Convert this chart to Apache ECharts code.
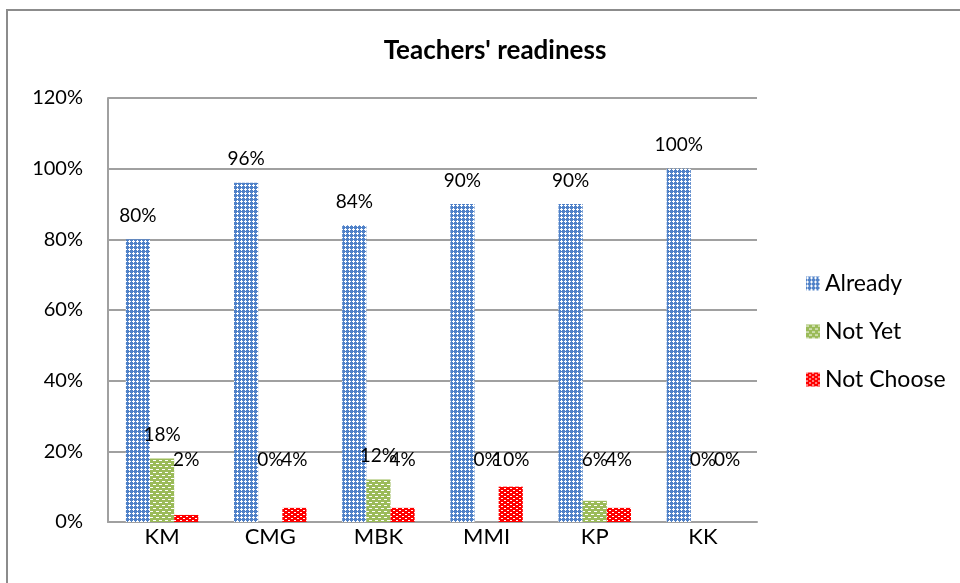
<!DOCTYPE html>
<html>
<head>
<meta charset="utf-8">
<script src="https://cdn.jsdelivr.net/npm/echarts@6/dist/echarts.min.js"></script>
<style>
  html, body { margin: 0; padding: 0; background: #fff; }
  #chart { width: 960px; height: 583px; }
</style>
</head>
<body>
<div id="chart"></div>
<script>
var categories = ['KM', 'CMG', 'MBK', 'MMI', 'KP', 'KK'];
var already = [80, 96, 84, 90, 90, 100];
var notYet = [18, 0, 12, 0, 6, 0];
var notChoose = [2, 4, 4, 10, 4, 0];

var FONT = 'Lato, "Open Sans", sans-serif';

// little canvas tiles to mimic the excel pattern fills
function tile(w, h, bg, dots) {
    var c = document.createElement('canvas');
    c.width = w;
    c.height = h;
    var ctx = c.getContext('2d');
    ctx.fillStyle = bg;
    ctx.fillRect(0, 0, w, h);
    ctx.fillStyle = '#fff';
    dots.forEach(function (d) {
        ctx.fillRect(d[0], d[1], d[2], d[3]);
    });
    return { image: c, repeat: 'repeat' };
}

var bluePat = tile(4, 4, '#4f81c8', [[1, 0, 1, 1], [0, 1, 3, 1], [1, 2, 1, 1]]);
var greenPat = tile(6, 6, '#9bbb59', [[0, 1, 3, 1], [3, 4, 3, 1]]);
var redPat = tile(6, 4, '#ff0000', [[0, 0, 2, 1], [3, 2, 2, 1]]);

var chart = echarts.init(document.getElementById('chart'));

function barSeries(name, data, pat) {
    return {
        name: name,
        type: 'bar',
        data: data,
        barGap: '0%',
        barCategoryGap: '33%',
        itemStyle: { color: pat },
        label: {
            show: true,
            position: 'top',
            distance: 14,
            formatter: '{c}%',
            color: '#000',
            fontFamily: FONT,
            fontSize: 19
        },
        labelLayout: function (p) {
            // excel pushes the small labels up a bit
            var r = p.labelRect;
            var cy = r.y + r.height / 2;
            if (cy > 460) {
                return { dy: 460 - cy };
            }
            return {};
        }
    };
}

chart.setOption({
    animation: false,
    title: {
        text: "Teachers' readiness",
        left: 490,
        textAlign: 'center',
        top: 33,
        textStyle: { fontFamily: FONT, fontWeight: 'bold', fontSize: 26, color: '#000' }
    },
    legend: {
        orient: 'vertical',
        left: 801,
        top: 267,
        itemWidth: 14,
        itemHeight: 14,
        itemGap: 25,
        icon: 'rect',
        textStyle: { fontFamily: FONT, fontSize: 23, color: '#000' },
        data: ['Already', 'Not Yet', 'Not Choose']
    },
    grid: { left: 108, right: 203, top: 98, bottom: 61 },
    xAxis: {
        type: 'category',
        data: categories,
        axisTick: { show: false },
        axisLine: { lineStyle: { color: '#a0a0a0', width: 2 } },
        axisLabel: { color: '#000', fontFamily: FONT, fontSize: 22, margin: 4 }
    },
    yAxis: {
        type: 'value',
        min: 0,
        max: 120,
        interval: 20,
        axisLine: { show: true, lineStyle: { color: '#a0a0a0', width: 2 } },
        axisTick: { show: false },
        splitLine: { lineStyle: { color: '#a0a0a0', width: 2 } },
        axisLabel: { formatter: '{value}%', color: '#000', fontFamily: FONT, fontSize: 20, margin: 25 }
    },
    graphic: [{
        type: 'rect',
        shape: { x: 7, y: 10, width: 1200, height: 1000 },
        style: { fill: 'none', stroke: '#8c8c8c', lineWidth: 2 },
        silent: true
    }],
    series: [
        barSeries('Already', already, bluePat),
        barSeries('Not Yet', notYet, greenPat),
        barSeries('Not Choose', notChoose, redPat)
    ]
});
</script>
</body>
</html>
